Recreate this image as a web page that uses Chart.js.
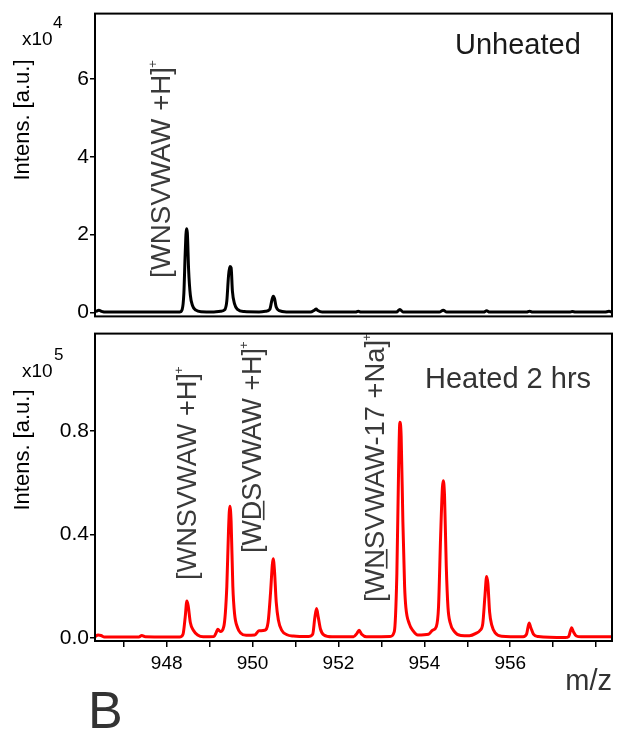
<!DOCTYPE html>
<html><head><meta charset="utf-8">
<script src="https://cdn.jsdelivr.net/npm/chart.js@4.4.1/dist/chart.umd.min.js"></script>
<style>
html,body{margin:0;padding:0;background:#fff;}
#wrap{position:relative;width:618px;height:734px;overflow:hidden;background:#fff;}
canvas{position:absolute;left:0;}
#c1{top:0;}
#c2{top:320px;}
</style></head><body>
<div id="wrap"><canvas id="c1" width="618" height="330"></canvas><canvas id="c2" width="618" height="414"></canvas></div>
<script>
// ---------- data ----------
const mzUnheated = [946.35,946.42,946.48,946.60,947.00,947.50,948.00,948.30,948.36,948.40,948.43,948.46,948.48,948.51,948.55,948.60,948.68,948.80,
  949.10,949.25,949.35,949.40,949.44,949.47,949.50,949.53,949.58,949.65,949.80,
  950.15,950.30,950.40,950.45,950.48,950.51,950.55,950.62,950.80,
  951.35,951.44,951.48,951.52,951.62,952.40,952.46,952.52,953.35,953.43,953.50,954.35,954.44,954.52,
  955.38,955.45,955.52,956.38,956.45,956.52,957.38,957.44,957.52,958.20,958.30,958.37];
const intUnheated = [200,600,300,100,100,100,100,150,800,5000,15000,21500,20500,11000,4500,1800,600,200,
  150,300,700,3000,9500,11800,11500,5500,2200,800,250,
  150,300,800,3200,4200,3600,1400,500,150,
  100,600,900,500,100,100,300,100,100,800,150,100,600,120,
  100,450,100,100,350,100,100,250,100,100,300,100];

const mzHeated = [946.33,946.40,946.47,946.55,947.00,947.35,947.42,947.50,948.00,948.30,948.38,948.43,948.47,948.50,948.55,948.62,948.72,948.85,
  949.10,949.15,949.19,949.25,949.33,949.40,949.44,949.47,949.50,949.54,949.58,949.65,949.72,949.85,
  950.05,950.15,950.28,950.36,950.42,950.46,950.48,950.51,950.55,950.60,950.68,950.80,950.95,
  951.30,951.40,951.45,951.49,951.53,951.58,951.66,951.85,952.35,952.43,952.48,952.54,952.65,
  953.20,953.30,953.36,953.40,953.43,953.46,953.50,953.54,953.57,953.65,953.73,953.85,
  954.10,954.19,954.28,954.33,954.38,954.42,954.44,954.47,954.51,954.55,954.60,954.70,954.85,
  955.05,955.20,955.30,955.36,955.41,955.45,955.48,955.52,955.57,955.65,955.80,
  956.30,956.38,956.44,956.48,956.54,956.65,957.28,957.36,957.43,957.47,957.54,957.65,958.20,958.37];
const intHeated = [600,1200,1000,400,400,400,1000,500,400,400,1500,8000,14300,12500,6000,3000,1200,500,
  600,2000,3400,2500,4500,20000,42000,51000,45000,20000,9400,4000,2000,1100,
  1200,2800,3000,6000,18000,28500,30700,26000,14000,7000,3000,1300,800,
  600,1500,8000,11400,8000,3500,1200,500,500,1800,3000,1500,500,
  600,2500,25000,65000,83400,78000,45000,20000,11800,5500,3000,1200,
  1500,3000,4500,12000,40000,58000,60800,55000,28000,12000,6000,2500,1000,
  900,1800,3000,5500,16000,23800,21000,10000,5000,2000,700,
  500,1500,5800,4000,1500,600,200,600,4000,2500,800,500,500,500];

const xTickValues = [947,948,949,950,951,952,953,954,955,956,957,958];
const xTickLabels = [948,950,952,954,956];
const yTicksTop = [0,20000,40000,60000];
const yTicksBottom = [0,40000,80000];

const peakLabelTop = '[WNSVWAW +H]';
const peakLabelsBottom = ['[WNSVWAW +H]', '[WDSVWAW +H]', '[WNSVWAW-17 +Na]'];
const panelTitles = ['Unheated', 'Heated 2 hrs'];
const yTitle = 'Intens. [a.u.]';
const yExponents = ['4', '5'];
const xTitle = 'm/z';
const figLetter = 'B';

// ---------- drawing ----------
const FONT = "'Liberation Sans', Arial, Helvetica, sans-serif";
const X_MIN = 946.33, X_MAX = 958.37;

function pts(xs, ys){ return xs.map((x,i)=>({x:x, y:ys[i]})); }

function drawRotLabel(ctx, L){
  const fs = L.size;
  ctx.save();
  ctx.font = fs + 'px ' + FONT;
  const w = ctx.measureText(L.text).width;
  const k = L.length / w;
  ctx.translate(L.cx, L.yBottom);
  ctx.rotate(-Math.PI/2);
  ctx.scale(k, 1);
  const base = fs * 0.26;
  ctx.fillStyle = L.color;
  ctx.textAlign = 'left';
  ctx.textBaseline = 'alphabetic';
  ctx.fillText(L.text, 0, base);
  if (L.underline){
    const pre = ctx.measureText(L.text.slice(0, L.underline[0])).width;
    const uw = ctx.measureText(L.text.slice(L.underline[0], L.underline[1])).width;
    ctx.fillRect(pre, base + fs*0.07, uw, 1.6);
  }
  ctx.font = L.supSize + 'px ' + FONT;
  ctx.fillText('+', w - 1, base - fs*0.5);
  ctx.restore();
}

function drawText(ctx, t){
  ctx.save();
  ctx.font = t.font;
  ctx.fillStyle = t.color || '#000';
  ctx.textAlign = t.align || 'left';
  ctx.textBaseline = t.baseline || 'alphabetic';
  ctx.translate(t.x, t.y);
  if (t.rotate) ctx.rotate(t.rotate);
  ctx.fillText(t.text, 0, 0);
  ctx.restore();
}

const pagePlugin = {
  id: 'pageText',
  afterDraw(chart, args, opts){
    const ctx = chart.ctx;
    const a = chart.chartArea;
    ctx.save();
    ctx.strokeStyle = '#000';
    ctx.lineWidth = 2;
    ctx.strokeRect(a.left, a.top, a.right - a.left, a.bottom - a.top);
    ctx.translate(0, -opts.offset);
    (opts.texts || []).forEach(t => drawText(ctx, t));
    (opts.labels || []).forEach(L => drawRotLabel(ctx, L));
    ctx.restore();
  }
};

function yAxis(min, max, ticks, fmt){
  return {
    type: 'linear', min: min, max: max,
    afterBuildTicks: s => { s.ticks = ticks.map(v => ({value: v})); },
    afterFit: s => { s.width = 95; },
    border: {display: false},
    grid: {display: true, drawOnChartArea: false, drawTicks: true, tickLength: 5, color: '#000', lineWidth: 1.5},
    ticks: {font: {family: FONT, size: 21}, color: '#000', padding: 1, callback: fmt}
  };
}

function dataset(mz, inten, color){
  return {data: pts(mz, inten), borderColor: color, borderWidth: 3, pointRadius: 0,
    cubicInterpolationMode: 'monotone', borderJoinStyle: 'round', fill: false};
}

const common = {
  responsive: false, animation: false, devicePixelRatio: 1,
  plugins: {legend: {display: false}, tooltip: {enabled: false}},
};

new Chart(document.getElementById('c1'), {
  type: 'line',
  data: {datasets: [dataset(mzUnheated, intUnheated, '#000')]},
  plugins: [pagePlugin],
  options: Object.assign({}, common, {
    layout: {padding: {top: 11, right: 6, bottom: 4, left: 0}},
    scales: {
      x: {type: 'linear', min: X_MIN, max: X_MAX, display: false},
      y: yAxis(-1000, 76800, yTicksTop, v => String(v/10000))
    },
    plugins: {legend: {display: false}, tooltip: {enabled: false},
      pageText: {offset: 0,
        texts: [
          {text: yTitle, x: 23, y: 120, font: '22px ' + FONT, align: 'center', baseline: 'middle', rotate: -Math.PI/2},
          {text: 'x10', x: 22, y: 45, font: '19px ' + FONT},
          {text: yExponents[0], x: 53, y: 28, font: '17px ' + FONT},
          {text: panelTitles[0], x: 455, y: 54, font: '29px ' + FONT, color: '#1a1a1a'}
        ],
        labels: [
          {text: peakLabelTop, cx: 163, yBottom: 278, length: 211, size: 27, supSize: 13, color: '#3a3a3a'}
        ]
      }
    }
  })
});

new Chart(document.getElementById('c2'), {
  type: 'line',
  data: {datasets: [dataset(mzHeated, intHeated, '#ff0000')]},
  plugins: [pagePlugin],
  options: Object.assign({}, common, {
    layout: {padding: {top: 6, right: 6, bottom: 0, left: 0}},
    scales: {
      x: {type: 'linear', min: X_MIN, max: X_MAX,
        afterBuildTicks: s => { s.ticks = xTickValues.map(v => ({value: v})); },
        afterFit: s => { s.height = 93; },
        border: {display: false},
        grid: {display: true, drawOnChartArea: false, drawTicks: true, tickLength: 6, color: '#000', lineWidth: 1.5},
        ticks: {font: {family: FONT, size: 19}, color: '#000', padding: 5, autoSkip: false, maxRotation: 0,
          callback: v => xTickLabels.includes(v) ? String(v) : ''}
      },
      y: yAxis(-1130, 117700, yTicksBottom, v => (v/100000).toFixed(1))
    },
    plugins: {legend: {display: false}, tooltip: {enabled: false},
      pageText: {offset: 320,
        texts: [
          {text: yTitle, x: 23, y: 450, font: '22px ' + FONT, align: 'center', baseline: 'middle', rotate: -Math.PI/2},
          {text: 'x10', x: 22, y: 377, font: '19px ' + FONT},
          {text: yExponents[1], x: 54, y: 360, font: '17px ' + FONT},
          {text: panelTitles[1], x: 425, y: 388, font: '29px ' + FONT, color: '#333'},
          {text: xTitle, x: 612, y: 690, font: '29px ' + FONT, color: '#333', align: 'right'},
          {text: figLetter, x: 88, y: 728, font: '52px ' + FONT, color: '#333'}
        ],
        labels: [
          {text: peakLabelsBottom[0], cx: 189, yBottom: 580, length: 207, size: 27, supSize: 13, color: '#3a3a3a'},
          {text: peakLabelsBottom[1], cx: 254, yBottom: 553, length: 205, size: 27, supSize: 13, color: '#3a3a3a', underline: [2,3]},
          {text: peakLabelsBottom[2], cx: 377, yBottom: 602, length: 262, size: 27, supSize: 13, color: '#3a3a3a', underline: [2,3]}
        ]
      }
    }
  })
});
</script>
</body></html>
